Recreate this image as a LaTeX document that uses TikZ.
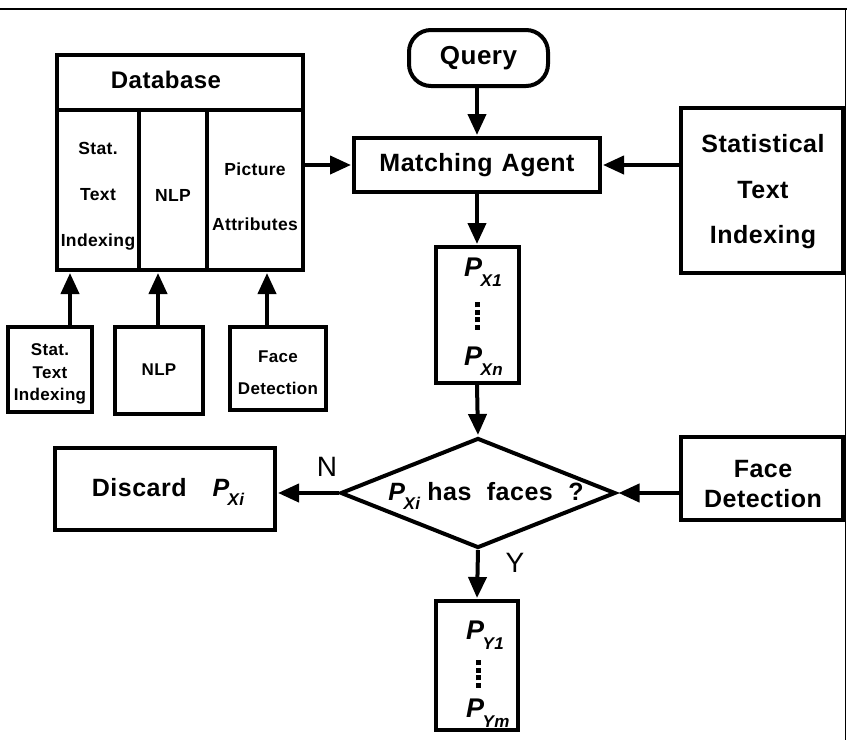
\documentclass[tikz,border=0pt]{standalone}
\usepackage{fontspec}
\setmainfont{Liberation Sans}[LetterSpace=2]
\usetikzlibrary{arrows.meta,shapes.geometric,calc}
\newcommand\fsz[2]{\fontsize{#1}{#2}\selectfont}
\newcommand\Psub[1]{{\bfseries\itshape P\kern-1.5pt\raisebox{-0.38em}{\fsz{17}{17}#1}}}
\newcommand\dotcol{\vbox{\offinterlineskip\hbox{\rule{5pt}{5pt}}\kern2.5pt\hbox{\rule{5pt}{5pt}}\kern2.5pt\hbox{\rule{5pt}{5pt}}\kern2.5pt\hbox{\rule{5pt}{5pt}}}}
\begin{document}
\begin{tikzpicture}[x=1pt,y=-1pt,
  box/.style={draw, line width=4pt, rectangle, inner sep=0pt},
  arr/.style={line width=4pt, shorten >=1pt, -{Triangle[length=21pt,width=18pt]}},
  big/.style={font=\bfseries\fsz{25}{30}, align=center, inner sep=0pt},
  sml/.style={font=\bfseries\fsz{17}{22}, align=center, inner sep=0pt},
  yn/.style={font=\fsz{28}{28}, inner sep=0pt}]
\useasboundingbox (0,0) rectangle (847,740);
\fill[white] (0,0) rectangle (847,740);
% frame lines
\draw[line width=2.5pt] (0,9) -- (847,9);
\draw[line width=1pt] (845.5,9) -- (845.5,740);

% Query
\node[box, rounded corners=22pt, minimum width=139pt, minimum height=56pt, font=\bfseries\fsz{26}{30}] (q) at (478.5,58) {Query};

% Database
\node[box, minimum width=246pt, minimum height=215pt] (db) at (180,162.5) {};
\draw[line width=4pt] (db.west |- 0,110) -- (db.east |- 0,110);
\draw[line width=4pt] (139,110) -- (139,270);
\draw[line width=4pt] (207,110) -- (207,270);
\node[font=\bfseries\fsz{24}{26}, inner sep=0pt] (dbt) at (166,80) {Database};
\node[sml, font=\bfseries\fsz{17.5}{46}] (c1) at (98,196) {Stat.\\Text\\Indexing};
\node[sml, font=\bfseries\fsz{17.5}{46}] (c2) at (173,195) {NLP};
\node[sml, font=\bfseries\fsz{17.5}{55}] (c3) at (255,197) {Picture\\Attributes};

% Matching agent
\node[box, minimum width=246pt, minimum height=54pt, font=\bfseries\fsz{25}{30}] (ma) at (477,165) {Matching\hspace{9pt}Agent};

% Statistical text indexing
\node[box, minimum width=162pt, minimum height=165pt] (sti) at (762,190.5) {};
\node[big, font=\bfseries\fsz{25}{45.5}] (stit) at (763,192) {Statistical\\Text\\Indexing};

% P_X box
\node[box, minimum width=83pt, minimum height=136pt] (px) at (477,315) {};
\node[anchor=west, inner sep=0pt, font=\fsz{27}{27}] (px1) at (464,272) {\Psub{X1}};
\node[inner sep=0pt] (pxd) at (477,316) {\dotcol};
\node[anchor=west, inner sep=0pt, font=\fsz{27}{27}] (pxn) at (464,361) {\Psub{Xn}};

% decision
\node[diamond, draw, line width=4pt, minimum width=275pt, minimum height=110pt, inner sep=0pt] (dec) at (478,493) {};
\node[inner sep=0pt, font=\bfseries\fsz{25}{25}] (dect) at (486,496) {\Psub{Xi} has\hspace{8pt} faces\hspace{8pt} ?};

% discard
\node[box, minimum width=220pt, minimum height=82pt] (disc) at (165,489) {};
\node[inner sep=0pt, font=\bfseries\fsz{25}{25}] (disct) at (168,492) {Discard\hspace{26pt}\Psub{Xi}};

% face detection right
\node[box, minimum width=162pt, minimum height=83pt] (fd) at (762,478.5) {};
\node[big, font=\bfseries\fsz{25}{30}] (fdt) at (763,484) {Face\\Detection};

% P_Y box
\node[box, minimum width=82pt, minimum height=129pt] (py) at (477,665.5) {};
\node[anchor=west, inner sep=0pt, font=\fsz{27}{27}] (py1) at (466,635) {\Psub{Y1}};
\node[inner sep=0pt] (pyd) at (478,674) {\dotcol};
\node[anchor=west, inner sep=0pt, font=\fsz{27}{27}] (pym) at (466,713) {\Psub{Ym}};

% small bottom boxes
\node[box, minimum width=84pt, minimum height=85pt] (s1) at (50,369.5) {};
\node[sml, font=\bfseries\fsz{17}{22.5}] (s1t) at (50,374) {Stat.\\Text\\Indexing};
\node[box, minimum width=88pt, minimum height=87pt] (s2) at (159,370.5) {};
\node[sml] (s2t) at (159,370) {NLP};
\node[box, minimum width=96pt, minimum height=83pt] (s3) at (278,368.5) {};
\node[sml, font=\bfseries\fsz{17}{32}] (s3t) at (278,373) {Face\\Detection};

% labels
\node[yn] (nl) at (327,467) {N};
\node[yn] (yl) at (515,563) {Y};

% arrows
\draw[arr] (q.south) -- (q.south -| ma.north) -- (ma.north);
\draw[arr] (ma.west -| db.east) -- (ma.west);
\draw[arr] (ma.east -| sti.west) -- (ma.east);
\draw[arr] (ma.south) -- (px.north);
\draw[arr] (px.south) -- (dec.north);
\draw[arr] (dec.west) -- (dec.west -| disc.east);
\draw[arr] (dec.east -| fd.west) -- (dec.east);
\draw[arr] (dec.south) -- (py.north);
\draw[arr] ([xshift=20pt]s1.north) -- ([xshift=20pt]s1.north |- db.south);
\draw[arr] ([xshift=-1pt]s2.north) -- ([xshift=-1pt]s2.north |- db.south);
\draw[arr] ([xshift=-11pt]s3.north) -- ([xshift=-11pt]s3.north |- db.south);
\end{tikzpicture}
\end{document}
